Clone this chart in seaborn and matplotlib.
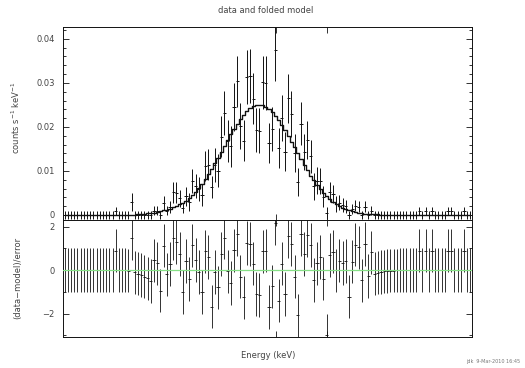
import matplotlib
matplotlib.use("Agg")
import matplotlib.pyplot as plt
import numpy as np
import pandas as pd
import seaborn as sns
from matplotlib.ticker import MultipleLocator, FixedLocator, NullFormatter

# Channel centres (keV)
energy_kev = [
    5.6125, 5.625, 5.6375, 5.65, 5.6625, 5.675, 5.6875, 5.7,
    5.7125, 5.725, 5.7375, 5.75, 5.7625, 5.775, 5.7875, 5.8,
    5.8125, 5.825, 5.8375, 5.85, 5.8625, 5.875, 5.8875, 5.9,
    5.9125, 5.925, 5.9375, 5.95, 5.9625, 5.975, 5.9875, 6.0,
    6.0125, 6.025, 6.0375, 6.05, 6.0625, 6.075, 6.0875, 6.1,
    6.1125, 6.125, 6.1375, 6.15, 6.1625, 6.175, 6.1875, 6.2,
    6.2125, 6.225, 6.2375, 6.25, 6.2625, 6.275, 6.2875, 6.3,
    6.3125, 6.325, 6.3375, 6.35, 6.3625, 6.375, 6.3875, 6.4,
    6.4125, 6.425, 6.4375, 6.45, 6.4625, 6.475, 6.4875, 6.5,
    6.5125, 6.525, 6.5375, 6.55, 6.5625, 6.575, 6.5875, 6.6,
    6.6125, 6.625, 6.6375, 6.65, 6.6625, 6.675, 6.6875, 6.7,
    6.7125, 6.725, 6.7375, 6.75, 6.7625, 6.775, 6.7875, 6.8,
    6.8125, 6.825, 6.8375, 6.85, 6.8625, 6.875, 6.8875, 6.9,
    6.9125, 6.925, 6.9375, 6.95, 6.9625, 6.975, 6.9875, 7.0,
    7.0125, 7.025, 7.0375, 7.05, 7.0625, 7.075, 7.0875, 7.1,
    7.1125, 7.125, 7.1375, 7.15, 7.1625, 7.175, 7.1875, 7.2,
]

# Observed count rate (counts s^-1 keV^-1)
rate = [
    0, 0, 0, 0, 0, 0, 0, 0,
    0, 0, 0, 0, 0, 0, 0, 0,
    0.0008, 0, 0, 0, 0, 0.0030, 0, 0,
    0, 0, 0, 0, 0.0010, 0.0010, 0, 0.0027,
    0.0010, 0.0018, 0.0052, 0.0051, 0.0038, 0.0016, 0.0042, 0.0030,
    0.0077, 0.0066, 0.0059, 0.0046, 0.0111, 0.0114, 0.0063, 0.0114,
    0.0101, 0.0178, 0.0232, 0.0168, 0.0156, 0.0245, 0.0304, 0.0203,
    0.0169, 0.0313, 0.0316, 0.0264, 0.0193, 0.0191, 0.0301, 0.0300,
    0.0164, 0.0196, 0.0374, 0.0152, 0.0220, 0.0144, 0.0265, 0.0229,
    0.0140, 0.0075, 0.0207, 0.0144, 0.0170, 0.0133, 0.0065, 0.0078,
    0.0077, 0.0041, 0.0004, 0.0052, 0.0048, 0.0025, 0.0028, 0.0022,
    0.0020, 0, 0.0013, 0.0021, 0.0019, 0, 0.0019, 0,
    0.0010, 0, 0, 0, 0, 0, 0, 0,
    0, 0, 0, 0, 0, 0, 0, 0.0008,
    0, 0.0008, 0, 0.0008, 0, 0, 0, 0,
    0.0008, 0.0008, 0, 0, 0, 0.0008, 0, 0,
]

# 1-sigma uncertainty on the rate
rate_err = [
    0.0009, 0.0009, 0.0009, 0.0009, 0.0009, 0.0009, 0.0009, 0.0009,
    0.0009, 0.0009, 0.0009, 0.0009, 0.0009, 0.0009, 0.0009, 0.0009,
    0.0009, 0.0009, 0.0009, 0.0009, 0.0009, 0.0020, 0.0009, 0.0009,
    0.0009, 0.0009, 0.0009, 0.0009, 0.0010, 0.0010, 0.0009, 0.0015,
    0.0011, 0.0013, 0.0024, 0.0024, 0.0019, 0.0012, 0.0022, 0.0021,
    0.0028, 0.0028, 0.0028, 0.0025, 0.0034, 0.0035, 0.0025, 0.0039,
    0.0037, 0.0046, 0.0050, 0.0047, 0.0046, 0.0054, 0.0058, 0.0052,
    0.0047, 0.0062, 0.0062, 0.0058, 0.0051, 0.0051, 0.0061, 0.0061,
    0.0045, 0.0050, 0.0069, 0.0045, 0.0053, 0.0044, 0.0055, 0.0052,
    0.0043, 0.0031, 0.0049, 0.0041, 0.0043, 0.0038, 0.0030, 0.0031,
    0.0030, 0.0024, 0.0013, 0.0023, 0.0021, 0.0018, 0.0017, 0.0016,
    0.0015, 0.0009, 0.0011, 0.0012, 0.0013, 0.0009, 0.0013, 0.0009,
    0.0010, 0.0009, 0.0009, 0.0009, 0.0009, 0.0009, 0.0009, 0.0009,
    0.0009, 0.0009, 0.0009, 0.0009, 0.0009, 0.0009, 0.0009, 0.0009,
    0.0009, 0.0009, 0.0009, 0.0009, 0.0009, 0.0009, 0.0009, 0.0009,
    0.0009, 0.0009, 0.0009, 0.0009, 0.0009, 0.0009, 0.0009, 0.0009,
]

# Folded model rate per channel
model_rate = [
    0, 0, 0, 0, 0, 0, 0, 0,
    0, 0, 0, 0, 0, 0, 0, 0,
    0, 0, 0, 0, 0.00003, 0.00005, 0.0001, 0.00015,
    0.0002, 0.00027, 0.00035, 0.00045, 0.00056, 0.0007, 0.00085, 0.00102,
    0.00122, 0.00145, 0.00172, 0.00203, 0.0024, 0.0028, 0.00328, 0.00385,
    0.00452, 0.0053, 0.00617, 0.00713, 0.00818, 0.0093, 0.0105, 0.01175,
    0.01305, 0.01438, 0.01573, 0.01707, 0.01837, 0.01962, 0.02078, 0.02185,
    0.02279, 0.02358, 0.02421, 0.02467, 0.02493, 0.025, 0.02487, 0.02455,
    0.02404, 0.02336, 0.02252, 0.02154, 0.02044, 0.01925, 0.01798, 0.01667,
    0.01533, 0.01398, 0.01265, 0.01137, 0.01013, 0.00895, 0.00785, 0.00684,
    0.0059, 0.00505, 0.0043, 0.00362, 0.00303, 0.00252, 0.00207, 0.00169,
    0.00137, 0.0011, 0.00088, 0.0007, 0.00055, 0.00043, 0.00033, 0.00025,
    0.00019, 0.00015, 0.00011, 0.00008, 0.00006, 0.00004, 0.00003, 0.00002,
    0.00001, 0, 0, 0, 0, 0, 0, 0,
    0, 0, 0, 0, 0, 0, 0, 0,
    0, 0, 0, 0, 0, 0, 0, 0,
]

top_ticks = [0, 0.01, 0.02, 0.03, 0.04]
top_ticklabels = ["0", "0.01", "0.02", "0.03", "0.04"]
res_ticks = [-2, 0, 2]
res_ticklabels = ["\u22122", "0", "2"]
energy_ticks = [6.44, 6.64]

half_bin = 0.00625
e_lo, e_hi = 5.60625, 7.20625

df = pd.DataFrame({
    "energy": energy_kev,
    "rate": rate,
    "err": rate_err,
    "model": model_rate,
})
df["resid"] = (df["rate"] - df["model"]) / df["err"]

sns.set_theme(style="white")
plt.rcParams["font.family"] = ["DejaVu Sans"]
plt.rcParams["axes.linewidth"] = 0.7

fig = plt.figure(figsize=(5.25, 3.68), dpi=100)
ax1 = fig.add_axes([0.1200, 0.40217, 0.7790, 0.52446])
ax2 = fig.add_axes([0.1200, 0.08424, 0.7790, 0.31793])

ink = "#111111"
txt = "#444444"

# upper panel: data crosses and folded model
ax1.errorbar(df["energy"], df["rate"], xerr=half_bin, yerr=df["err"],
             fmt="none", ecolor=ink, elinewidth=0.7, capsize=0, zorder=2)
sns.lineplot(data=df, x="energy", y="model", ax=ax1, color=ink,
             linewidth=1.0, drawstyle="steps-mid", zorder=3)

# lower panel: residuals in units of sigma
ax2.errorbar(df["energy"], df["resid"], xerr=half_bin, yerr=1.0,
             fmt="none", ecolor=ink, elinewidth=0.6, capsize=0, zorder=2)
ax2.axhline(0, color="#86e086", linewidth=0.9, zorder=3)

ax1.set_xlim(e_lo, e_hi)
ax2.set_xlim(e_lo, e_hi)
ax1.set_ylim(-0.00114, 0.0427)
ax2.set_ylim(-3.08, 2.3)

ax1.set_yticks(top_ticks)
ax1.set_yticklabels(top_ticklabels)
ax1.yaxis.set_minor_locator(MultipleLocator(0.002))
ax2.set_yticks(res_ticks)
ax2.set_yticklabels(res_ticklabels)
ax2.yaxis.set_minor_locator(MultipleLocator(1))

for ax in (ax1, ax2):
    ax.set_xlabel("")
    ax.set_ylabel("")
    ax.xaxis.set_major_locator(FixedLocator(energy_ticks))
    ax.xaxis.set_major_formatter(NullFormatter())
    ax.tick_params(axis="both", which="both", direction="in", top=True,
                   right=True, bottom=True, left=True, width=0.6,
                   colors=ink, labelcolor=txt, labelsize=6, pad=6)
    ax.tick_params(which="major", length=4)
    ax.tick_params(which="minor", length=2)
    for sp in ax.spines.values():
        sp.set_color(ink)
        sp.set_linewidth(0.7)

fig.text(0.507, 0.972, "data and folded model", ha="center", va="center",
         fontsize=6, color=txt)
fig.text(0.030, 0.679, "counts s$^{-1}$ keV$^{-1}$", rotation=90,
         ha="center", va="center", fontsize=6, color=txt)
fig.text(0.034, 0.245, "(data\u2212model)/error", rotation=90,
         ha="center", va="center", fontsize=6, color=txt)
fig.text(0.510, 0.035, "Energy (keV)", ha="center", va="center",
         fontsize=6, color=txt)
fig.text(0.99, 0.010, "jdk  9-Mar-2010 16:45", ha="right", va="bottom",
         fontsize=3.5, color="#777777")

fig.savefig("out.png", dpi=100, facecolor="white")
